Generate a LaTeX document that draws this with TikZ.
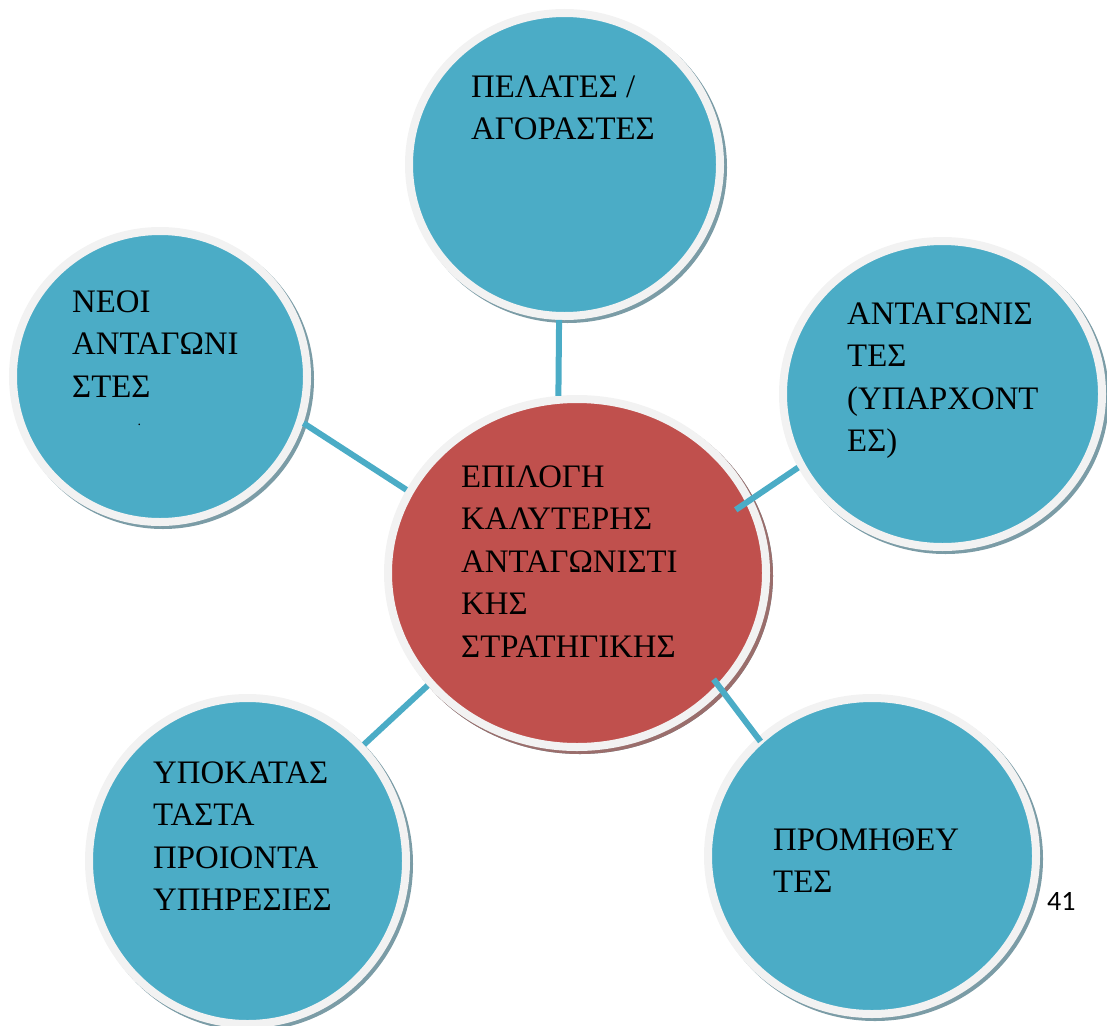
\documentclass[tikz,border=0pt]{standalone}
\usepackage{fontspec}
\setmainfont{Liberation Serif}
\newfontfamily\pagenumfont{Carlito}
\usepackage{tikz}
\usetikzlibrary{shapes.geometric}

\definecolor{bubbleblue}{HTML}{4BACC6}
\definecolor{hubred}{HTML}{C0504D}
\definecolor{ringgrey}{HTML}{F2F2F2}
\definecolor{blueshadow}{HTML}{7B9CA6}
\definecolor{redshadow}{HTML}{9A6E6C}

\newcommand{\bubbletext}[1]{\begin{tabular}[t]{@{}l@{}}#1\end{tabular}}

\begin{document}
\begin{tikzpicture}[x=1pt,y=-1pt,
  bubble/.style={ellipse,draw=ringgrey,line width=8pt,fill=bubbleblue,inner sep=0pt,
    preaction={draw=blueshadow,fill=blueshadow,line width=8pt,
      transform canvas={xshift=3pt,yshift=-3pt}}},
  hub/.style={bubble,fill=hubred,
    preaction={draw=redshadow,fill=redshadow,line width=8pt,
      transform canvas={xshift=3pt,yshift=-3pt}}},
  link/.style={draw=bubbleblue,line width=6pt},
  txt/.style={anchor=base west,inner sep=0pt,font=\fontsize{32.8}{42.6}\selectfont}]

\useasboundingbox (0,0) rectangle (1107,1025);

  \node (clients) at (564.5,164.5) [bubble,minimum width=311pt,minimum height=303pt] {};
  \node (entrants) at (160,376.5) [bubble,minimum width=294pt,minimum height=291pt] {};
  \node (rivals) at (942.5,394) [bubble,minimum width=319pt,minimum height=306pt] {};
  \node (substitutes) at (247.5,861) [bubble,minimum width=317pt,minimum height=326pt] {};
  \node (suppliers) at (872,856) [bubble,minimum width=328pt,minimum height=316pt] {};
  \node (strategy) at (577,573) [hub,minimum width=378pt,minimum height=348pt] {};

\draw[link] (clients.-92.4) -- (strategy.96.2);
\draw[link] (entrants.-18.4) -- (strategy.154.5);
\draw[link,shorten >=-20pt] (rivals.-153) -- (strategy.23.2);
\draw[link] (substitutes.45.1) -- (strategy.-143.6);
\draw[link,shorten <=-5pt,shorten >=-14pt] (suppliers.134.5) -- (strategy.-39.6);

\node (clientstxt) at (471,97) [txt] {\bubbletext{ΠΕΛΑΤΕΣ /\\ΑΓΟΡΑΣΤΕΣ}};
\node (entrantstxt) at (72,312) [txt] {\bubbletext{ΝΕΟΙ\\ΑΝΤΑΓΩΝΙ\\ΣΤΕΣ}};
\node (entrantsdot) at (137.5,425.5) [anchor=base west,inner sep=0pt,font=\fontsize{14}{16}\selectfont] {.};
\node (rivalstxt) at (847,324) [txt] {\bubbletext{ΑΝΤΑΓΩΝΙΣ\\ΤΕΣ\\(ΥΠΑΡΧΟΝΤ\\ΕΣ)}};
\node (substitutestxt) at (153,783) [txt] {\bubbletext{ΥΠΟΚΑΤΑΣ\\ΤΑΣΤΑ\\ΠΡΟΙΟΝΤΑ\\ΥΠΗΡΕΣΙΕΣ}};
\node (supplierstxt) at (773,850) [txt] {\bubbletext{ΠΡΟΜΗΘΕΥ\\ΤΕΣ}};
\node (strategytxt) at (461,487) [txt] {\bubbletext{ΕΠΙΛΟΓΗ\\ΚΑΛΥΤΕΡΗΣ\\ΑΝΤΑΓΩΝΙΣΤΙ\\ΚΗΣ\\ΣΤΡΑΤΗΓΙΚΗΣ}};

\node (pagenum) at (1047,910) [anchor=base west,inner sep=0pt,font=\pagenumfont\fontsize{28}{32}\selectfont] {41};
\end{tikzpicture}
\end{document}
